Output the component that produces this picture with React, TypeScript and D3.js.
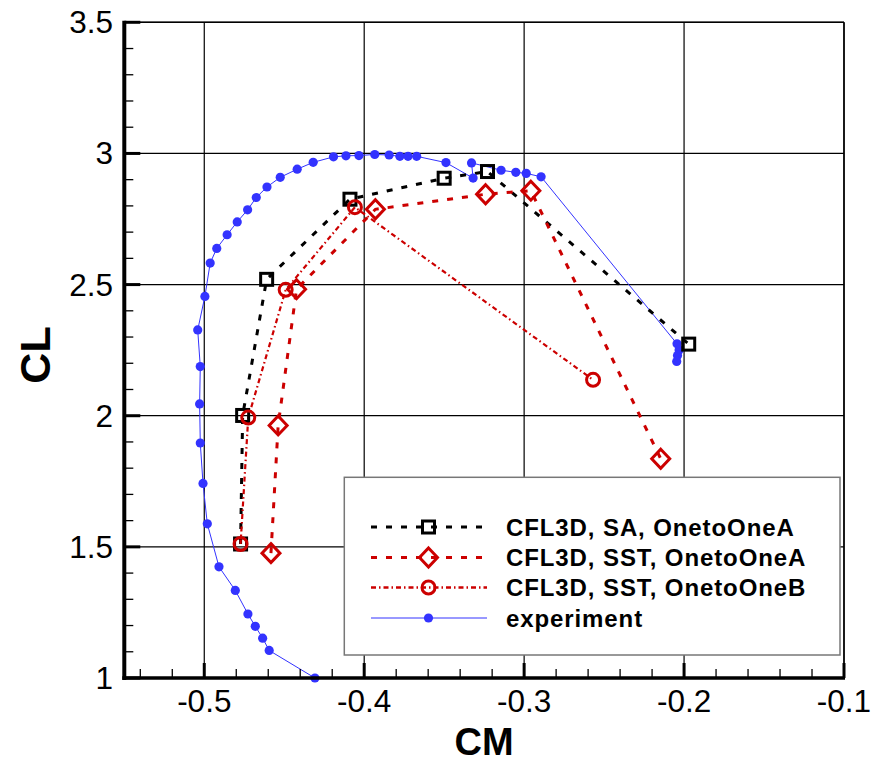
import React from "react";
import * as d3 from "d3";

const xTicks = [-0.5, -0.4, -0.3, -0.2, -0.1];
const yTicks = [1, 1.5, 2, 2.5, 3, 3.5];
const xTickLabels = ["-0.5", "-0.4", "-0.3", "-0.2", "-0.1"];
const yTickLabels = ["1", "1.5", "2", "2.5", "3", "3.5"];

const saCM = [-0.4773, -0.476, -0.461, -0.4089, -0.35, -0.3229, -0.1971];
const saCL = [1.511, 2.001, 2.52, 2.8255, 2.9055, 2.931, 2.273];

const sstACM = [-0.4583, -0.4538, -0.4423, -0.393, -0.3241, -0.2958, -0.2146];
const sstACL = [1.476, 1.963, 2.4825, 2.787, 2.8445, 2.858, 1.836];

const sstBCM = [-0.4773, -0.4725, -0.4491, -0.4058, -0.2569];
const sstBCL = [1.511, 1.993, 2.48, 2.795, 2.137];

const expCM = [
  -0.4308, -0.4594, -0.4635, -0.4681, -0.4727, -0.4806, -0.4908, -0.4981, -0.5008, -0.5025,
  -0.5029, -0.5025, -0.5041, -0.4996, -0.4963, -0.4922, -0.4857, -0.4794, -0.4729, -0.4675,
  -0.4608, -0.4525, -0.4419, -0.4319, -0.4192, -0.4114, -0.4033, -0.3934, -0.3844, -0.3777,
  -0.3726, -0.3672, -0.3489, -0.3319, -0.3329, -0.3144, -0.3052, -0.2987, -0.2894, -0.2044,
  -0.2031, -0.2041, -0.2046,
];
const expCL = [
  1.0, 1.105, 1.152, 1.197, 1.244, 1.334, 1.424, 1.588, 1.742, 1.896,
  2.045, 2.1875, 2.327, 2.455, 2.582, 2.638, 2.69, 2.739, 2.785, 2.832,
  2.872, 2.909, 2.94, 2.966, 2.987, 2.991, 2.992, 2.996, 2.994, 2.989,
  2.989, 2.989, 2.965, 2.906, 2.964, 2.936, 2.928, 2.924, 2.911, 2.274,
  2.251, 2.23, 2.207,
];

const legendLabels = [
  "CFL3D, SA, OnetoOneA",
  "CFL3D, SST, OnetoOneA",
  "CFL3D, SST, OnetoOneB",
  "experiment",
];

const RED = "#cc0000";
const BLUE = "#3333ff";
const FONT = "'Liberation Sans', Arial, Helvetica, sans-serif";

const W = 872;
const H = 763;
const L = 124.3, R = 844, T = 22.3, B = 678;

export default function App() {
  const x = d3.scaleLinear().domain([-0.55, -0.1]).range([L, R]);
  const y = d3.scaleLinear().domain([1, 3.5]).range([B, T]);
  const line = d3
    .line<[number, number]>()
    .x((d) => x(d[0]))
    .y((d) => y(d[1]));

  const zip = (a: number[], b: number[]) => a.map((v, i) => [v, b[i]] as [number, number]);
  const sa = zip(saCM, saCL);
  const sstA = zip(sstACM, sstACL);
  const sstB = zip(sstBCM, sstBCL);
  const exp = zip(expCM, expCL);

  const xMinor = d3.range(-0.54, -0.1, 0.02).filter((v) => Math.abs(v * 10 - Math.round(v * 10)) > 1e-6);
  const yMinor = d3.range(1.1, 3.5, 0.1).filter((v) => Math.abs(v * 2 - Math.round(v * 2)) > 1e-6);

  const square = (cx: number, cy: number, k: string) => (
    <rect key={k} x={cx - 6} y={cy - 6} width={12} height={12} fill="none" stroke="#000" strokeWidth={3} />
  );
  const diamond = (cx: number, cy: number, k: string) => (
    <path key={k} d={`M${cx},${cy - 9.5}L${cx + 9},${cy}L${cx},${cy + 9.5}L${cx - 9},${cy}Z`} fill="none" stroke={RED} strokeWidth={3} />
  );
  const circle = (cx: number, cy: number, k: string) => (
    <circle key={k} cx={cx} cy={cy} r={6.5} fill="none" stroke={RED} strokeWidth={3} />
  );
  const dot = (cx: number, cy: number, k: string) => <circle key={k} cx={cx} cy={cy} r={4.6} fill={BLUE} />;

  const legX0 = 371, legX1 = 487, legMx = 428.5, legTx = 506;
  const legY = [527, 557.5, 587.5, 618];

  return (
    <svg width={W} height={H} style={{ position: "absolute", left: 0, top: 0, background: "#fff" }} fontFamily={FONT}>
      <rect x={0} y={0} width={W} height={H} fill="#fff" />
      {/* grid */}
      {xTicks.map((v) => (
        <line key={"gx" + v} x1={x(v)} x2={x(v)} y1={T} y2={B} stroke="#000" strokeWidth={1.2} />
      ))}
      {yTicks.map((v) => (
        <line key={"gy" + v} x1={L} x2={R} y1={y(v)} y2={y(v)} stroke="#000" strokeWidth={1.2} />
      ))}

      {/* series lines */}
      <path d={line(exp) || ""} fill="none" stroke={BLUE} strokeWidth={1} />
      <path d={line(sa) || ""} fill="none" stroke="#000" strokeWidth={3} strokeDasharray="6 9" />
      <path d={line(sstA) || ""} fill="none" stroke={RED} strokeWidth={3} strokeDasharray="6 9" />
      <path d={line(sstB) || ""} fill="none" stroke={RED} strokeWidth={2.2} strokeDasharray="5 3 1.5 3" />

      {/* markers */}
      {exp.map((d, i) => dot(x(d[0]), y(d[1]), "e" + i))}
      {sa.map((d, i) => square(x(d[0]), y(d[1]), "s" + i))}
      {sstA.map((d, i) => diamond(x(d[0]), y(d[1]), "d" + i))}
      {sstB.map((d, i) => circle(x(d[0]), y(d[1]), "c" + i))}

      {/* legend */}
      <rect x={344.3} y={477.3} width={495.7} height={177.7} fill="#fff" stroke="#777" strokeWidth={1.5} />
      <line x1={legX0} x2={legX1} y1={legY[0]} y2={legY[0]} stroke="#000" strokeWidth={3} strokeDasharray="6 9" />
      {square(legMx, legY[0], "ls")}
      <line x1={legX0} x2={legX1} y1={legY[1]} y2={legY[1]} stroke={RED} strokeWidth={3} strokeDasharray="6 9" />
      {diamond(legMx, legY[1], "ld")}
      <line x1={legX0} x2={legX1} y1={legY[2]} y2={legY[2]} stroke={RED} strokeWidth={2.5} strokeDasharray="5 3 1.5 3" />
      {circle(legMx, legY[2], "lc")}
      <line x1={legX0} x2={legX1} y1={legY[3]} y2={legY[3]} stroke={BLUE} strokeWidth={1} />
      {dot(legMx, legY[3], "le")}
      {legendLabels.map((t, i) => (
        <text key={"lt" + i} x={legTx} y={legY[i] + 8.5} fontSize={24} fontWeight="bold" letterSpacing={0.9} fill="#000">
          {t}
        </text>
      ))}

      {/* frame */}
      <line x1={L} x2={R} y1={T} y2={T} stroke="#000" strokeWidth={1.5} />
      <line x1={R} x2={R} y1={T} y2={B} stroke="#000" strokeWidth={1.5} />
      {/* minor ticks */}
      {xMinor.map((v) => (
        <line key={"mx" + v} x1={x(v)} x2={x(v)} y1={B} y2={B - 9} stroke="#000" strokeWidth={1.3} />
      ))}
      {yMinor.map((v) => (
        <line key={"my" + v} x1={L} x2={L + 9} y1={y(v)} y2={y(v)} stroke="#000" strokeWidth={1.3} />
      ))}
      {/* major ticks */}
      {xTicks.map((v) => (
        <line key={"Mx" + v} x1={x(v)} x2={x(v)} y1={B} y2={B - 15} stroke="#000" strokeWidth={3} />
      ))}
      {yTicks.map((v) => (
        <line key={"My" + v} x1={L} x2={L + 16} y1={y(v)} y2={y(v)} stroke="#000" strokeWidth={3} />
      ))}
      {/* axis lines */}
      <line x1={L} x2={L} y1={T - 1.5} y2={B + 2} stroke="#000" strokeWidth={4} />
      <line x1={L - 2} x2={R + 1} y1={B} y2={B} stroke="#000" strokeWidth={3.5} />

      {/* tick labels */}
      {xTicks.map((v, i) => (
        <text key={"xl" + v} x={x(v)} y={712} textAnchor="middle" fontSize={31.5} fill="#000">
          {xTickLabels[i]}
        </text>
      ))}
      {yTicks.map((v, i) => (
        <text key={"yl" + v} x={113} y={y(v) + 11} textAnchor="end" fontSize={31.5} fill="#000">
          {yTickLabels[i]}
        </text>
      ))}

      {/* axis titles */}
      <text x={484} y={755} textAnchor="middle" fontSize={38} fontWeight="bold" fill="#000">
        CM
      </text>
      <text transform={`translate(50,355) rotate(-90)`} textAnchor="middle" fontSize={43} fontWeight="bold" fill="#000">
        CL
      </text>
    </svg>
  );
}
